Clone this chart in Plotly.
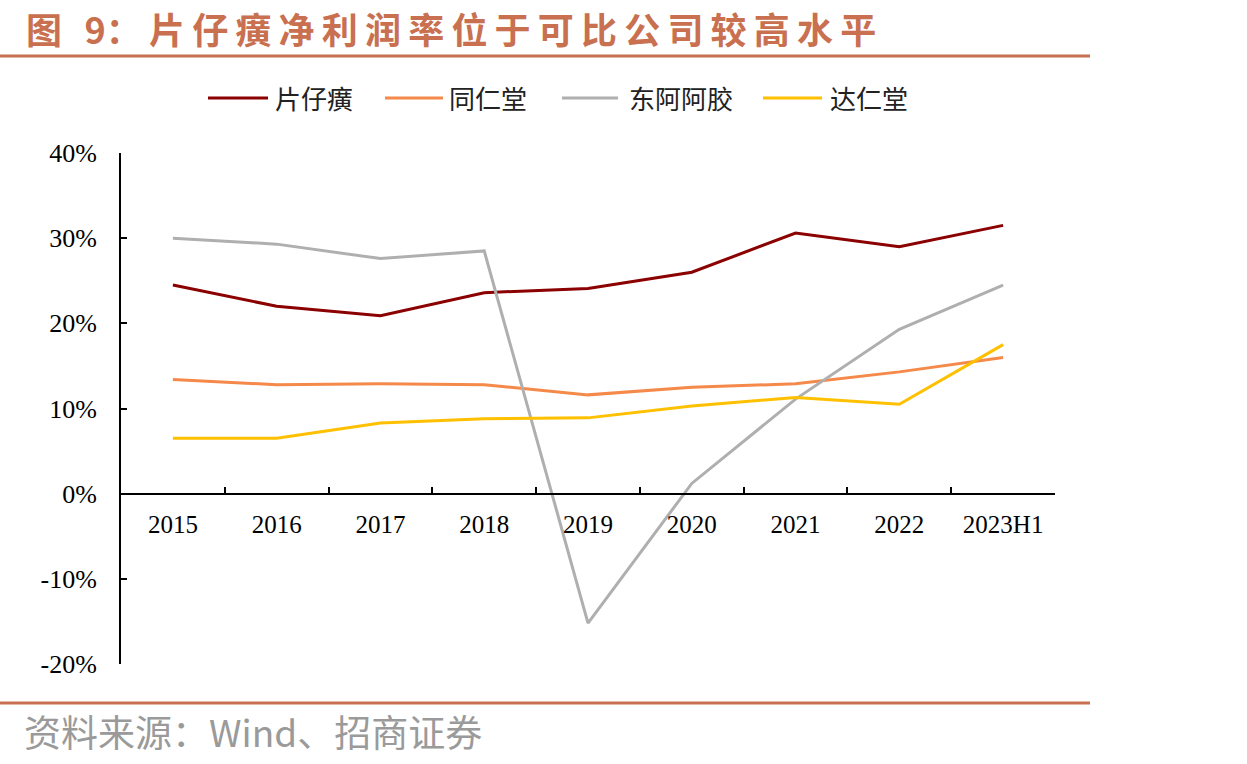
import plotly.graph_objects as go

categories = ["2015", "2016", "2017", "2018", "2019", "2020", "2021", "2022", "2023H1"]
pzh = [24.5, 22.0, 20.9, 23.6, 24.1, 26.0, 30.6, 29.0, 31.5]
trt = [13.4, 12.8, 12.9, 12.8, 11.6, 12.5, 12.9, 14.3, 16.0]
dea = [30.0, 29.3, 27.6, 28.5, -15.2, 1.2, 11.1, 19.3, 24.5]
drt = [6.5, 6.5, 8.3, 8.8, 8.9, 10.3, 11.3, 10.5, 17.5]

series_names = ["片仔癀", "同仁堂", "东阿阿胶", "达仁堂"]
series_values = [pzh, trt, dea, drt]
colors = ["#8B0000", "#F4894A", "#AFAFAF", "#FFC000"]

y_tick_values = [-20, -10, 0, 10, 20, 30, 40]
y_tick_labels = ["-20%", "-10%", "0%", "10%", "20%", "30%", "40%"]

title_text = "图 9：片仔癀净利润率位于可比公司较高水平"
source_text = "资料来源：Wind、招商证券"

W, H = 1247, 764
L, R, T, B = 121, 1055, 153, 664
pw, ph = R - L, B - T

def px2x(px):
    return (px - L) / pw

def py2y(py):
    return (B - py) / ph

fig = go.Figure()
for name, vals, c in zip(series_names, series_values, colors):
    fig.add_trace(go.Scatter(x=categories, y=vals, mode="lines", name=name,
                             line=dict(color=c, width=3), showlegend=False))

# manual legend (line sample + label) placed in paper coordinates
legend_line_px = [(208, 268), (385, 443), (562, 618), (763, 822)]
legend_text_px = [273, 447, 627, 828]
legend_y = py2y(98)

shapes = []
annotations = []
for name, c, (x0, x1), tx in zip(series_names, colors, legend_line_px, legend_text_px):
    shapes.append(dict(type="line", xref="paper", yref="paper", x0=px2x(x0), x1=px2x(x1),
                       y0=legend_y, y1=legend_y, line=dict(color=c, width=3)))
    annotations.append(dict(text=name, xref="paper", yref="paper", x=px2x(tx), y=legend_y,
                            xanchor="left", yanchor="middle", showarrow=False,
                            font=dict(family="Noto Sans CJK SC", size=26, color="#222")))

rule_color = "#C8704F"
shapes += [
    dict(type="line", xref="paper", yref="paper", x0=px2x(0), x1=px2x(1090),
         y0=py2y(56), y1=py2y(56), line=dict(color=rule_color, width=3)),
    dict(type="line", xref="paper", yref="paper", x0=px2x(0), x1=px2x(1090),
         y0=py2y(703), y1=py2y(703), line=dict(color=rule_color, width=3)),
]

# title with thin spacing between the characters
head, body = title_text.split("：", 1)
head_spaced = head.replace(" ", " \u2009\u2009")
title_spaced = head_spaced + "：\u2009" + "\u2009".join(list(body))
annotations += [
    dict(text="<b>" + title_spaced + "</b>", xref="paper", yref="paper",
         x=px2x(24), y=py2y(28), xanchor="left", yanchor="middle", showarrow=False,
         font=dict(family="Noto Sans CJK SC", size=36, color=rule_color)),
    dict(text=source_text, xref="paper", yref="paper",
         x=px2x(22), y=py2y(731), xanchor="left", yanchor="middle", showarrow=False,
         font=dict(family="Noto Sans CJK SC", size=37, color="#9A9A9A")),
]

fig.update_layout(
    width=W, height=H,
    margin=dict(l=L, r=W - R, t=T, b=H - B, pad=0),
    paper_bgcolor="white", plot_bgcolor="white",
    showlegend=False,
    xaxis=dict(type="category", range=[-0.5, 8.5], anchor="free", position=20 / 60,
               showline=True, linecolor="black", linewidth=2,
               ticks="inside", tickson="boundaries", ticklen=6, tickwidth=2, tickcolor="black",
               showgrid=False, zeroline=False,
               tickfont=dict(family="Liberation Serif", size=25, color="black"),
               ticklabelstandoff=8),
    yaxis=dict(range=[-20, 40], tickmode="array", tickvals=y_tick_values, ticktext=y_tick_labels,
               showline=True, linecolor="black", linewidth=2,
               ticks="inside", ticklen=6, tickwidth=2, tickcolor="black",
               showgrid=False, zeroline=False,
               tickfont=dict(family="Liberation Serif", size=26, color="black"),
               ticklabelstandoff=17),
    shapes=shapes,
    annotations=annotations,
)

fig.write_html("out.html")
